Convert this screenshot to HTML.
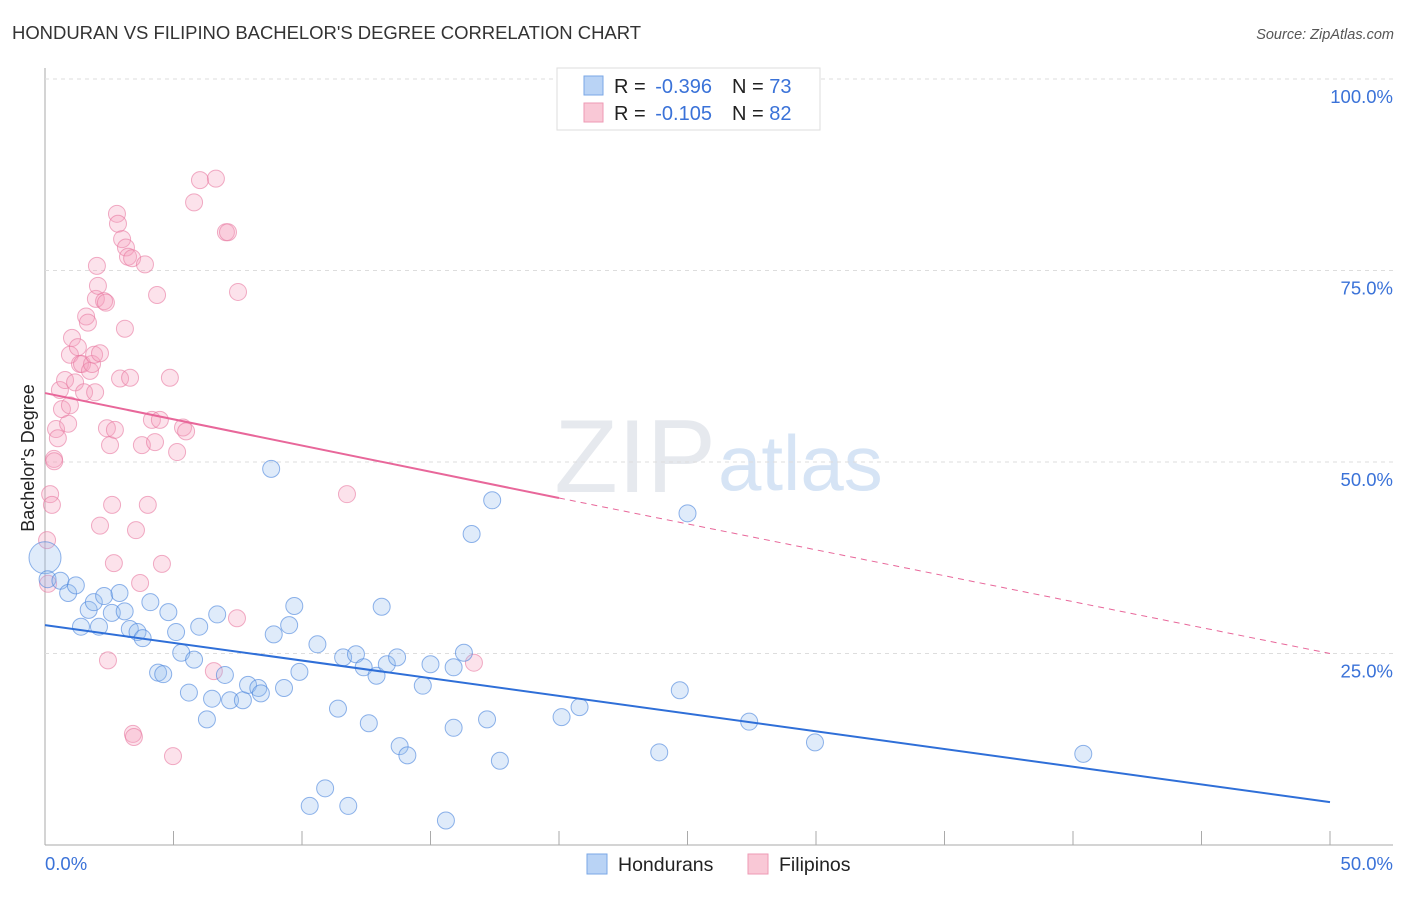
<!DOCTYPE html>
<html><head><meta charset="utf-8"><style>
body{margin:0;background:#fff;font-family:"Liberation Sans",sans-serif}
svg text{font-family:"Liberation Sans",sans-serif}
</style></head><body>
<svg id="chart" width="1406" height="892">
<text x="12" y="39" font-size="18.5" fill="#333" textLength="629">HONDURAN VS FILIPINO BACHELOR'S DEGREE CORRELATION CHART</text>
<text x="1394" y="39" font-size="14.5" fill="#555" font-style="italic" text-anchor="end">Source: ZipAtlas.com</text>
<text x="716" y="492" font-size="104" fill="#e6e9ee" text-anchor="end" font-family="Liberation Serif">ZIP</text>
<text x="718" y="490" font-size="78" fill="#d6e4f5">atlas</text>
<g id="grid"></g>
<g id="pts"></g>
<g id="lines"></g>
<text x="34" y="458" font-size="18" fill="#222" text-anchor="middle" transform="rotate(-90 34 458)">Bachelor's Degree</text>
<g>
<rect x="557" y="68" width="263" height="62" fill="#fff" stroke="#ddd"/>
<rect x="584" y="76" width="19" height="19" fill="#b9d3f5" stroke="#7aa7e6"/>
<rect x="584" y="103" width="19" height="19" fill="#f9c8d6" stroke="#ee9ab4"/>
<text x="614" y="93" font-size="20" fill="#222">R = <tspan dx="4" fill="#3a72d8">-0.396</tspan><tspan dx="20">N = </tspan><tspan fill="#3a72d8">73</tspan></text>
<text x="614" y="120" font-size="20" fill="#222">R = <tspan dx="4" fill="#3a72d8">-0.105</tspan><tspan dx="20">N = </tspan><tspan fill="#3a72d8">82</tspan></text>
</g>
<g>
<rect x="587" y="854" width="20" height="20" fill="#b9d3f5" stroke="#7aa7e6"/>
<text x="618" y="871" font-size="19.5" fill="#222">Hondurans</text>
<rect x="748" y="854" width="20" height="20" fill="#f9c8d6" stroke="#ee9ab4"/>
<text x="779" y="871" font-size="19.5" fill="#222">Filipinos</text>
</g>
</svg>
<script>
const yTicks=[25,50,75,100];
const xTickLabels=["0.0%","50.0%"];
const blueX=[0.0,0.1,0.6,0.9,1.2,1.4,1.7,1.9,2.1,2.3,2.6,2.9,3.1,3.3,3.6,3.8,4.1,4.4,4.6,4.8,5.1,5.3,5.6,5.8,6.0,6.3,6.5,6.7,7.0,7.2,7.7,7.9,8.3,8.4,8.8,8.9,9.3,9.5,9.7,9.9,10.3,10.6,10.9,11.4,11.6,11.8,12.1,12.4,12.6,12.9,13.1,13.3,13.7,13.8,14.1,14.7,15.0,15.6,15.9,15.9,16.3,16.6,17.2,17.4,17.7,20.1,20.8,23.9,24.7,25.0,27.4,29.96,40.4];
const blueY=[37.5,34.7,34.5,32.9,33.9,28.5,30.7,31.7,28.5,32.5,30.3,32.9,30.5,28.2,27.8,27.0,31.7,22.5,22.3,30.4,27.8,25.1,19.9,24.2,28.5,16.4,19.1,30.1,22.2,18.9,18.9,20.9,20.5,19.8,49.1,27.5,20.5,28.7,31.2,22.6,5.1,26.2,7.4,17.8,24.5,5.1,24.9,23.2,15.9,22.1,31.1,23.6,24.5,12.9,11.7,20.8,23.6,3.2,23.2,15.3,25.1,40.6,16.4,45.0,11.0,16.7,18.0,12.1,20.2,43.3,16.1,13.4,11.9];
const pinkX=[0.08,0.12,0.2,0.27,0.35,0.36,0.43,0.5,0.58,0.66,0.78,0.9,0.97,0.97,1.05,1.17,1.28,1.36,1.44,1.52,1.6,1.67,1.75,1.83,1.91,1.95,1.98,2.02,2.06,2.14,2.14,2.3,2.37,2.41,2.45,2.53,2.61,2.68,2.72,2.8,2.84,2.92,3.0,3.11,3.15,3.23,3.31,3.39,3.42,3.46,3.54,3.7,3.77,3.89,4.0,4.16,4.28,4.36,4.47,4.55,4.86,4.98,5.14,5.37,5.49,5.8,6.03,6.57,6.65,7.04,7.12,7.47,7.51,11.75,16.69];
const pinkY=[39.8,34.1,45.8,44.4,50.4,50.1,54.3,53.1,59.4,56.9,60.7,55.0,57.4,64.0,66.2,60.4,65.0,62.8,62.8,59.1,69.0,68.2,61.9,62.8,64.0,59.1,71.3,75.6,73.0,41.7,64.2,71.0,70.8,54.4,24.1,52.2,44.4,36.8,54.2,82.4,81.1,60.9,79.1,67.4,78.0,76.8,61.0,76.6,14.5,14.1,41.1,34.2,52.2,75.8,44.4,55.5,52.6,71.8,55.5,36.7,61.0,11.6,51.3,54.5,54.0,83.9,86.8,22.7,87.0,80.0,80.0,29.6,72.2,45.8,23.8];
const blueFit=[28.7,5.6];
const pinkFit=[59.0,45.3,25.0];
const X=v=>45+v/50*1285, Y=v=>845-v/100*766;
const NS="http://www.w3.org/2000/svg";
function mk(t,a,p){const e=document.createElementNS(NS,t);for(const k in a)e.setAttribute(k,a[k]);p.appendChild(e);return e;}
const grid=document.getElementById('grid');
mk('line',{x1:45,y1:68,x2:45,y2:845,stroke:'#aaa'},grid);
mk('line',{x1:45,y1:845,x2:1393,y2:845,stroke:'#aaa'},grid);
for(const t of yTicks){
 const l=mk('line',{x1:45,y1:Y(t),x2:1393,y2:Y(t),stroke:'#ddd','stroke-dasharray':'4,4'},grid);
 
 
 const tx=mk('text',{x:1393,y:Y(t)+24,'font-size':18.5,fill:'#3a72d8','text-anchor':'end'},grid);
 tx.textContent=t.toFixed(1)+'%';
 
 
}
for(let i=0;i<=10;i++){mk('line',{x1:X(i*5),y1:845,x2:X(i*5),y2:831,stroke:'#aaa'},grid);}
const t0=mk('text',{x:45,y:870,'font-size':18.5,fill:'#3a72d8'},grid);t0.textContent=xTickLabels[0];


const t1=mk('text',{x:1393,y:870,'font-size':18.5,fill:'#3a72d8','text-anchor':'end'},grid);t1.textContent=xTickLabels[1];


const pts=document.getElementById('pts');
pinkX.forEach((x,i)=>{const c=mk('circle',{cx:X(x),cy:Y(pinkY[i]),r:8.5,fill:'rgba(244,160,188,0.3)',stroke:'rgba(232,120,160,0.6)'},pts);
 
 });
blueX.forEach((x,i)=>{const c=mk('circle',{cx:X(x),cy:Y(blueY[i]),r:i==0?16:8.5,fill:'rgba(150,190,240,0.3)',stroke:'rgba(70,130,220,0.6)'},pts);
 
 });
const ln=document.getElementById('lines');
const b=mk('line',{x1:X(0),y1:Y(blueFit[0]),x2:X(50),y2:Y(blueFit[1]),stroke:'#2f6fd8','stroke-width':2},ln);


const p=mk('line',{x1:X(0),y1:Y(pinkFit[0]),x2:X(20),y2:Y(pinkFit[1]),stroke:'#e8679a','stroke-width':2},ln);


const pd=mk('line',{x1:X(20),y1:Y(pinkFit[1]),x2:X(50),y2:Y(pinkFit[2]),stroke:'#e8679a','stroke-width':1,'stroke-dasharray':'6,5'},ln);


</script>
</body></html>
